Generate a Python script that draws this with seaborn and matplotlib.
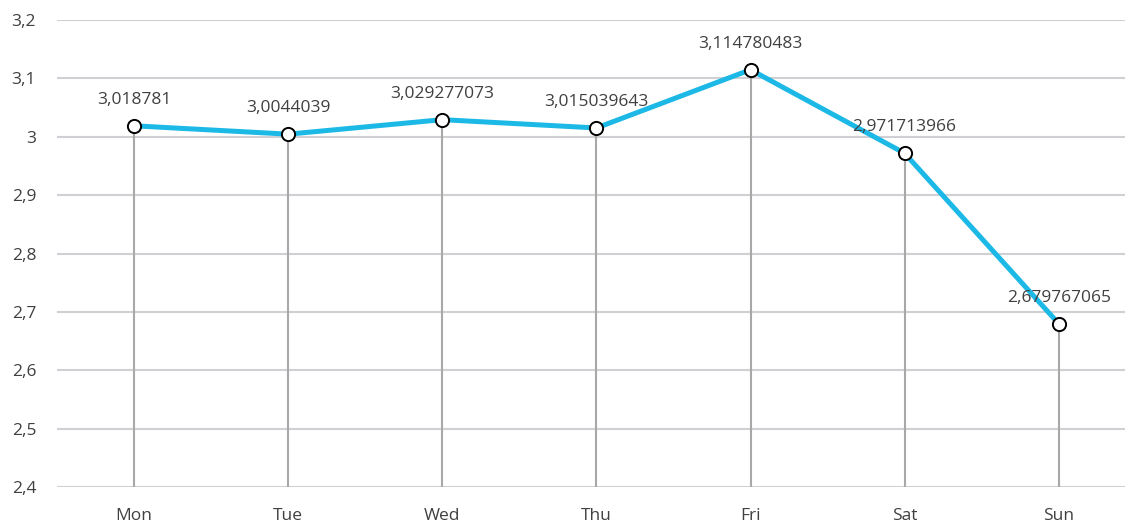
import matplotlib
matplotlib.use("Agg")
import matplotlib.pyplot as plt
import seaborn as sns
import pandas as pd

days = ["Mon", "Tue", "Wed", "Thu", "Fri", "Sat", "Sun"]
values = [3.018781, 3.0044039, 3.029277073, 3.015039643, 3.114780483, 2.971713966, 2.679767065]
value_labels = ["3,018781", "3,0044039", "3,029277073", "3,015039643",
                "3,114780483", "2,971713966", "2,679767065"]
y_ticks = [2.4, 2.5, 2.6, 2.7, 2.8, 2.9, 3.0, 3.1, 3.2]
y_tick_labels = ["2,4", "2,5", "2,6", "2,7", "2,8", "2,9", "3", "3,1", "3,2"]

sns.set_theme(style="white")
plt.rcParams["font.family"] = ["Open Sans", "DejaVu Sans"]

df = pd.DataFrame({"day": days, "value": values})
df["pos"] = range(len(days))

dpi = 100
fig = plt.figure(figsize=(11.25, 5.23), dpi=dpi)
ax = fig.add_axes([57 / 1125, 1 - 487 / 523, 1 - 57 / 1125, (487 - 20) / 523])

ymin, ymax = 2.4, 3.2
ax.set_ylim(ymin, ymax)
ax.set_xlim(-0.5, 6.43)

# horizontal gridlines
for t in y_ticks:
    ax.axhline(t, color="#D0D0D4", lw=1.5, zorder=0)

# drop lines from each point to the baseline
ax.vlines(df["pos"], ymin, df["value"], color="#A8A8A8", lw=1.5, zorder=1)

sns.lineplot(data=df, x="pos", y="value", ax=ax, color="#1CB8E6", lw=3.6,
             marker="o", markersize=9.5, markerfacecolor="white",
             markeredgecolor="black", markeredgewidth=1.4, zorder=3)

for p, v, lab in zip(df["pos"], df["value"], value_labels):
    ax.annotate(lab, (p, v), xytext=(0, 13), textcoords="offset points",
                ha="center", va="bottom", fontsize=12.5, color="#404040", zorder=4)

ax.set_xticks(df["pos"])
ax.set_xticklabels(days, fontsize=12.5, color="#404040")
ax.set_yticks(y_ticks)
ax.set_yticklabels(y_tick_labels, fontsize=12.5, color="#404040")
ax.tick_params(axis="x", length=0, pad=15)
ax.tick_params(axis="y", length=0, pad=15)
ax.set_xlabel("")
ax.set_ylabel("")
for s in ax.spines.values():
    s.set_visible(False)

fig.savefig("out.png", dpi=dpi)
